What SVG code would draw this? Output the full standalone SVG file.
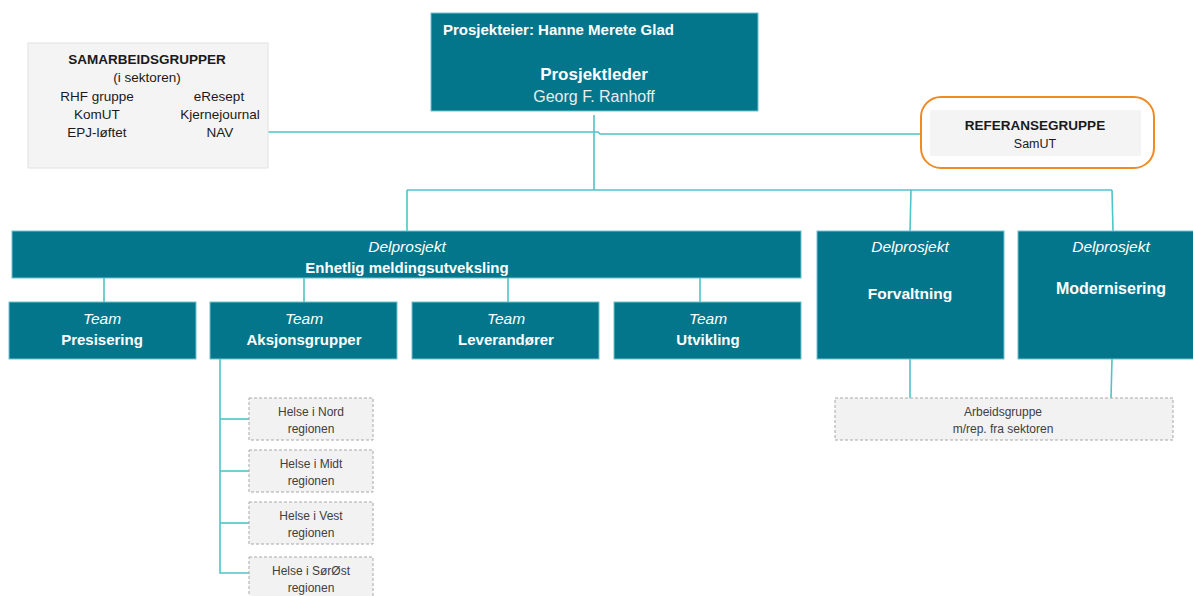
<svg xmlns="http://www.w3.org/2000/svg" width="1193" height="596" viewBox="0 0 1193 596">
<style>
.teal{fill:#03768c;stroke:#6cc3cf;stroke-width:1}
.grey{fill:#f2f2f2;stroke:#a8a8a8;stroke-width:1;stroke-dasharray:3 2}
.conn{fill:none;stroke:#4ec5c8;stroke-width:1.6}
text{font-family:"Liberation Sans",Arial,sans-serif;text-anchor:middle}
.w{fill:#ffffff}
.k{fill:#1a1a1a}
.it{font-style:italic;font-size:15.5px}
.b{font-weight:bold}
.s{font-size:12px;fill:#404040}
</style>
<rect width="1193" height="596" fill="#ffffff"/>
<g id="connectors">
<polyline class="conn" points="268,132 598,132 600,134 930,134"/>
<line class="conn" x1="594" y1="115" x2="594" y2="190"/>
<line class="conn" x1="407" y1="190" x2="1112" y2="190"/>
<line class="conn" x1="407" y1="190" x2="407" y2="231"/>
<line class="conn" x1="911" y1="190" x2="910" y2="231"/>
<line class="conn" x1="1112" y1="190" x2="1113" y2="231"/>
<line class="conn" x1="104" y1="278" x2="104" y2="302"/>
<line class="conn" x1="304" y1="278" x2="304" y2="302"/>
<line class="conn" x1="508" y1="278" x2="508" y2="302"/>
<line class="conn" x1="700" y1="278" x2="700" y2="302"/>
<line class="conn" x1="910" y1="359" x2="910" y2="398"/>
<line class="conn" x1="1112" y1="359" x2="1111" y2="398"/>
<polyline class="conn" points="220,359 220,573 249,573"/>
<line class="conn" x1="220" y1="419" x2="249" y2="419"/>
<line class="conn" x1="220" y1="471" x2="249" y2="471"/>
<line class="conn" x1="220" y1="523" x2="249" y2="523"/>
</g>
<g id="prosjektleder">
<rect class="teal" x="431" y="13" width="327" height="98"/>
<text class="w b" x="443" y="35" font-size="15" style="text-anchor:start">Prosjekteier: Hanne Merete Glad</text>
<text class="w b" x="594" y="80" font-size="17">Prosjektleder</text>
<text x="594" y="102" font-size="16" fill="#e6eef0">Georg F. Ranhoff</text>
</g>
<g id="samarbeidsgrupper">
<rect x="28" y="43" width="240" height="125" fill="#f4f4f4" stroke="#e2e2e2" stroke-width="1"/>
<text class="k b" x="147" y="64" font-size="13.5">SAMARBEIDSGRUPPER</text>
<text class="k" x="147" y="82" font-size="13.5">(i sektoren)</text>
<text class="k" x="97" y="101" font-size="13.5">RHF gruppe</text>
<text class="k" x="219" y="101" font-size="13.5">eResept</text>
<text class="k" x="97" y="119" font-size="13.5">KomUT</text>
<text class="k" x="220" y="119" font-size="13.5">Kjernejournal</text>
<text class="k" x="97" y="137" font-size="13.5">EPJ-løftet</text>
<text class="k" x="220" y="137" font-size="13.5">NAV</text>
</g>
<g id="referansegruppe">
<rect x="921" y="97" width="233" height="71" rx="20" fill="#ffffff" stroke="#f08a24" stroke-width="2"/>
<rect x="930" y="110" width="211" height="46" fill="#f4f4f4"/>
<text class="k b" x="1035" y="130" font-size="13.5">REFERANSEGRUPPE</text>
<text class="k" x="1035" y="148" font-size="12.5">SamUT</text>
</g>
<g id="delprosjekt-enhetlig">
<rect class="teal" x="12" y="231" width="789" height="47"/>
<text class="w it" x="407" y="252">Delprosjekt</text>
<text class="w b" x="407" y="273" font-size="15">Enhetlig meldingsutveksling</text>
</g>
<g id="delprosjekt-forvaltning">
<rect class="teal" x="817" y="231" width="187" height="128"/>
<text class="w it" x="910" y="252">Delprosjekt</text>
<text class="w b" x="910" y="299" font-size="15.5">Forvaltning</text>
</g>
<g id="delprosjekt-modernisering">
<rect class="teal" x="1018" y="231" width="180" height="128"/>
<text class="w it" x="1111" y="252">Delprosjekt</text>
<text class="w b" x="1111" y="294" font-size="16">Modernisering</text>
</g>
<g id="team-presisering">
<rect class="teal" x="9" y="302" width="187" height="57"/>
<text class="w it" x="102" y="324">Team</text>
<text class="w b" x="102" y="345" font-size="15">Presisering</text>
</g>
<g id="team-aksjonsgrupper">
<rect class="teal" x="210" y="302" width="187" height="57"/>
<text class="w it" x="304" y="324">Team</text>
<text class="w b" x="304" y="345" font-size="15">Aksjonsgrupper</text>
</g>
<g id="team-leverandorer">
<rect class="teal" x="412" y="302" width="187" height="57"/>
<text class="w it" x="506" y="324">Team</text>
<text class="w b" x="506" y="345" font-size="15">Leverandører</text>
</g>
<g id="team-utvikling">
<rect class="teal" x="614" y="302" width="187" height="57"/>
<text class="w it" x="708" y="324">Team</text>
<text class="w b" x="708" y="345" font-size="15">Utvikling</text>
</g>
<g id="arbeidsgruppe">
<rect class="grey" x="835" y="398" width="338" height="42"/>
<text class="s" x="1003" y="416">Arbeidsgruppe</text>
<text class="s" x="1003" y="433">m/rep. fra sektoren</text>
</g>
<g id="helse-nord">
<rect class="grey" x="249" y="398" width="124" height="42"/>
<text class="s" x="311" y="416">Helse  i Nord</text>
<text class="s" x="311" y="433">regionen</text>
</g>
<g id="helse-midt">
<rect class="grey" x="249" y="450" width="124" height="42"/>
<text class="s" x="311" y="468">Helse  i Midt</text>
<text class="s" x="311" y="485">regionen</text>
</g>
<g id="helse-vest">
<rect class="grey" x="249" y="502" width="124" height="42"/>
<text class="s" x="311" y="520">Helse  i Vest</text>
<text class="s" x="311" y="537">regionen</text>
</g>
<g id="helse-sorost">
<rect class="grey" x="249" y="557" width="124" height="42"/>
<text class="s" x="311" y="575">Helse  i SørØst</text>
<text class="s" x="311" y="592">regionen</text>
</g>
</svg>
